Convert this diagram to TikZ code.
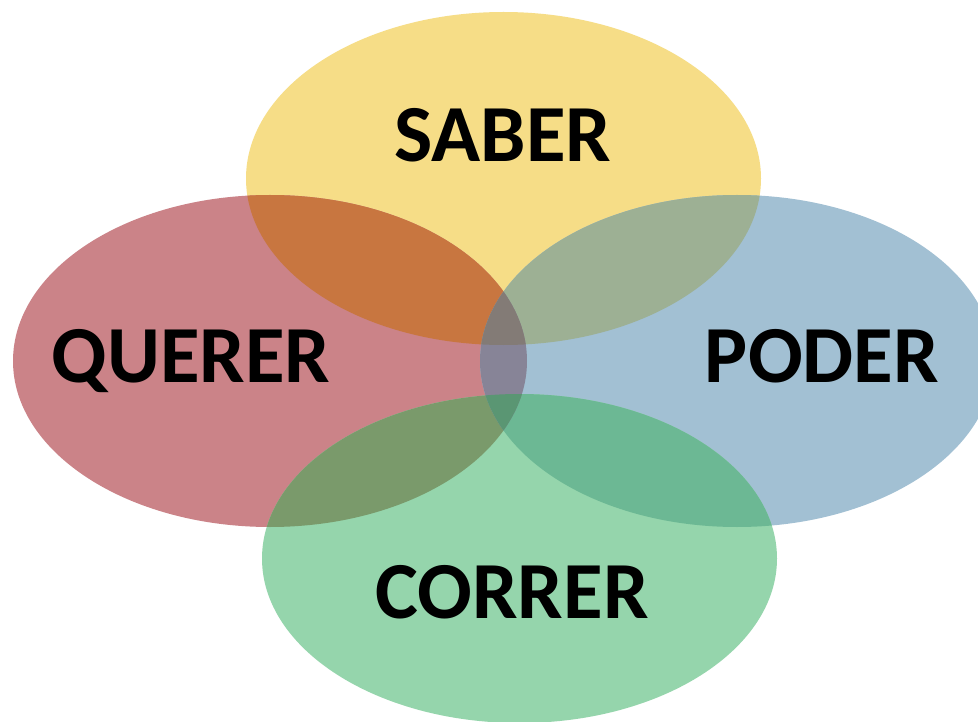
\documentclass[tikz,border=0pt]{standalone}
\usepackage{fontspec}
\setmainfont{Carlito}
\definecolor{cY}{RGB}{246,221,135}
\definecolor{cR}{RGB}{203,131,136}
\definecolor{cB}{RGB}{162,192,211}
\definecolor{cG}{RGB}{149,213,172}
\definecolor{cYR}{RGB}{200,118,64}
\definecolor{cYB}{RGB}{157,176,148}
\definecolor{cRG}{RGB}{122,154,107}
\definecolor{cBG}{RGB}{108,184,148}
\definecolor{cRB}{RGB}{135,132,151}
\definecolor{cYRB}{RGB}{131,123,118}
\definecolor{cRBG}{RGB}{90,150,115}
\tikzset{label/.style={anchor=base,font=\bfseries\fontsize{81}{90}\selectfont,text=black,inner sep=0pt}}
\newcommand{\ellY}{(503.5,178.5) ellipse [x radius=257.5,y radius=166.5]}
\newcommand{\ellR}{(270,361) ellipse [x radius=257,y radius=166]}
\newcommand{\ellB}{(737,361) ellipse [x radius=257,y radius=166]}
\newcommand{\ellG}{(519.5,558.5) ellipse [x radius=257.5,y radius=164.5]}
\begin{document}
\begin{tikzpicture}[x=1pt,y=-1pt]
\useasboundingbox (0,0) rectangle (978,722);
\fill[white] (0,0) rectangle (978,722);
% base fills
\fill[cY] \ellY;
\fill[cR] \ellR;
\fill[cB] \ellB;
\fill[cG] \ellG;
% pairwise overlaps
\begin{scope}\clip \ellY; \fill[cYR] \ellR; \end{scope}
\begin{scope}\clip \ellY; \fill[cYB] \ellB; \end{scope}
\begin{scope}\clip \ellR; \fill[cRG] \ellG; \end{scope}
\begin{scope}\clip \ellB; \fill[cBG] \ellG; \end{scope}
\begin{scope}\clip \ellR; \fill[cRB] \ellB; \end{scope}
% triple overlaps
\begin{scope}\clip \ellY; \clip \ellR; \fill[cYRB] \ellB; \end{scope}
\begin{scope}\clip \ellR; \clip \ellB; \fill[cRBG] \ellG; \end{scope}
% labels
\node[label] (saber) at (503,162) {SABER};
\node[label] (querer) at (191,382) {QUERER};
\node[label] (poder) at (822,382) {PODER};
\node[label] (correr) at (512,618) {CORRER};
\end{tikzpicture}
\end{document}
